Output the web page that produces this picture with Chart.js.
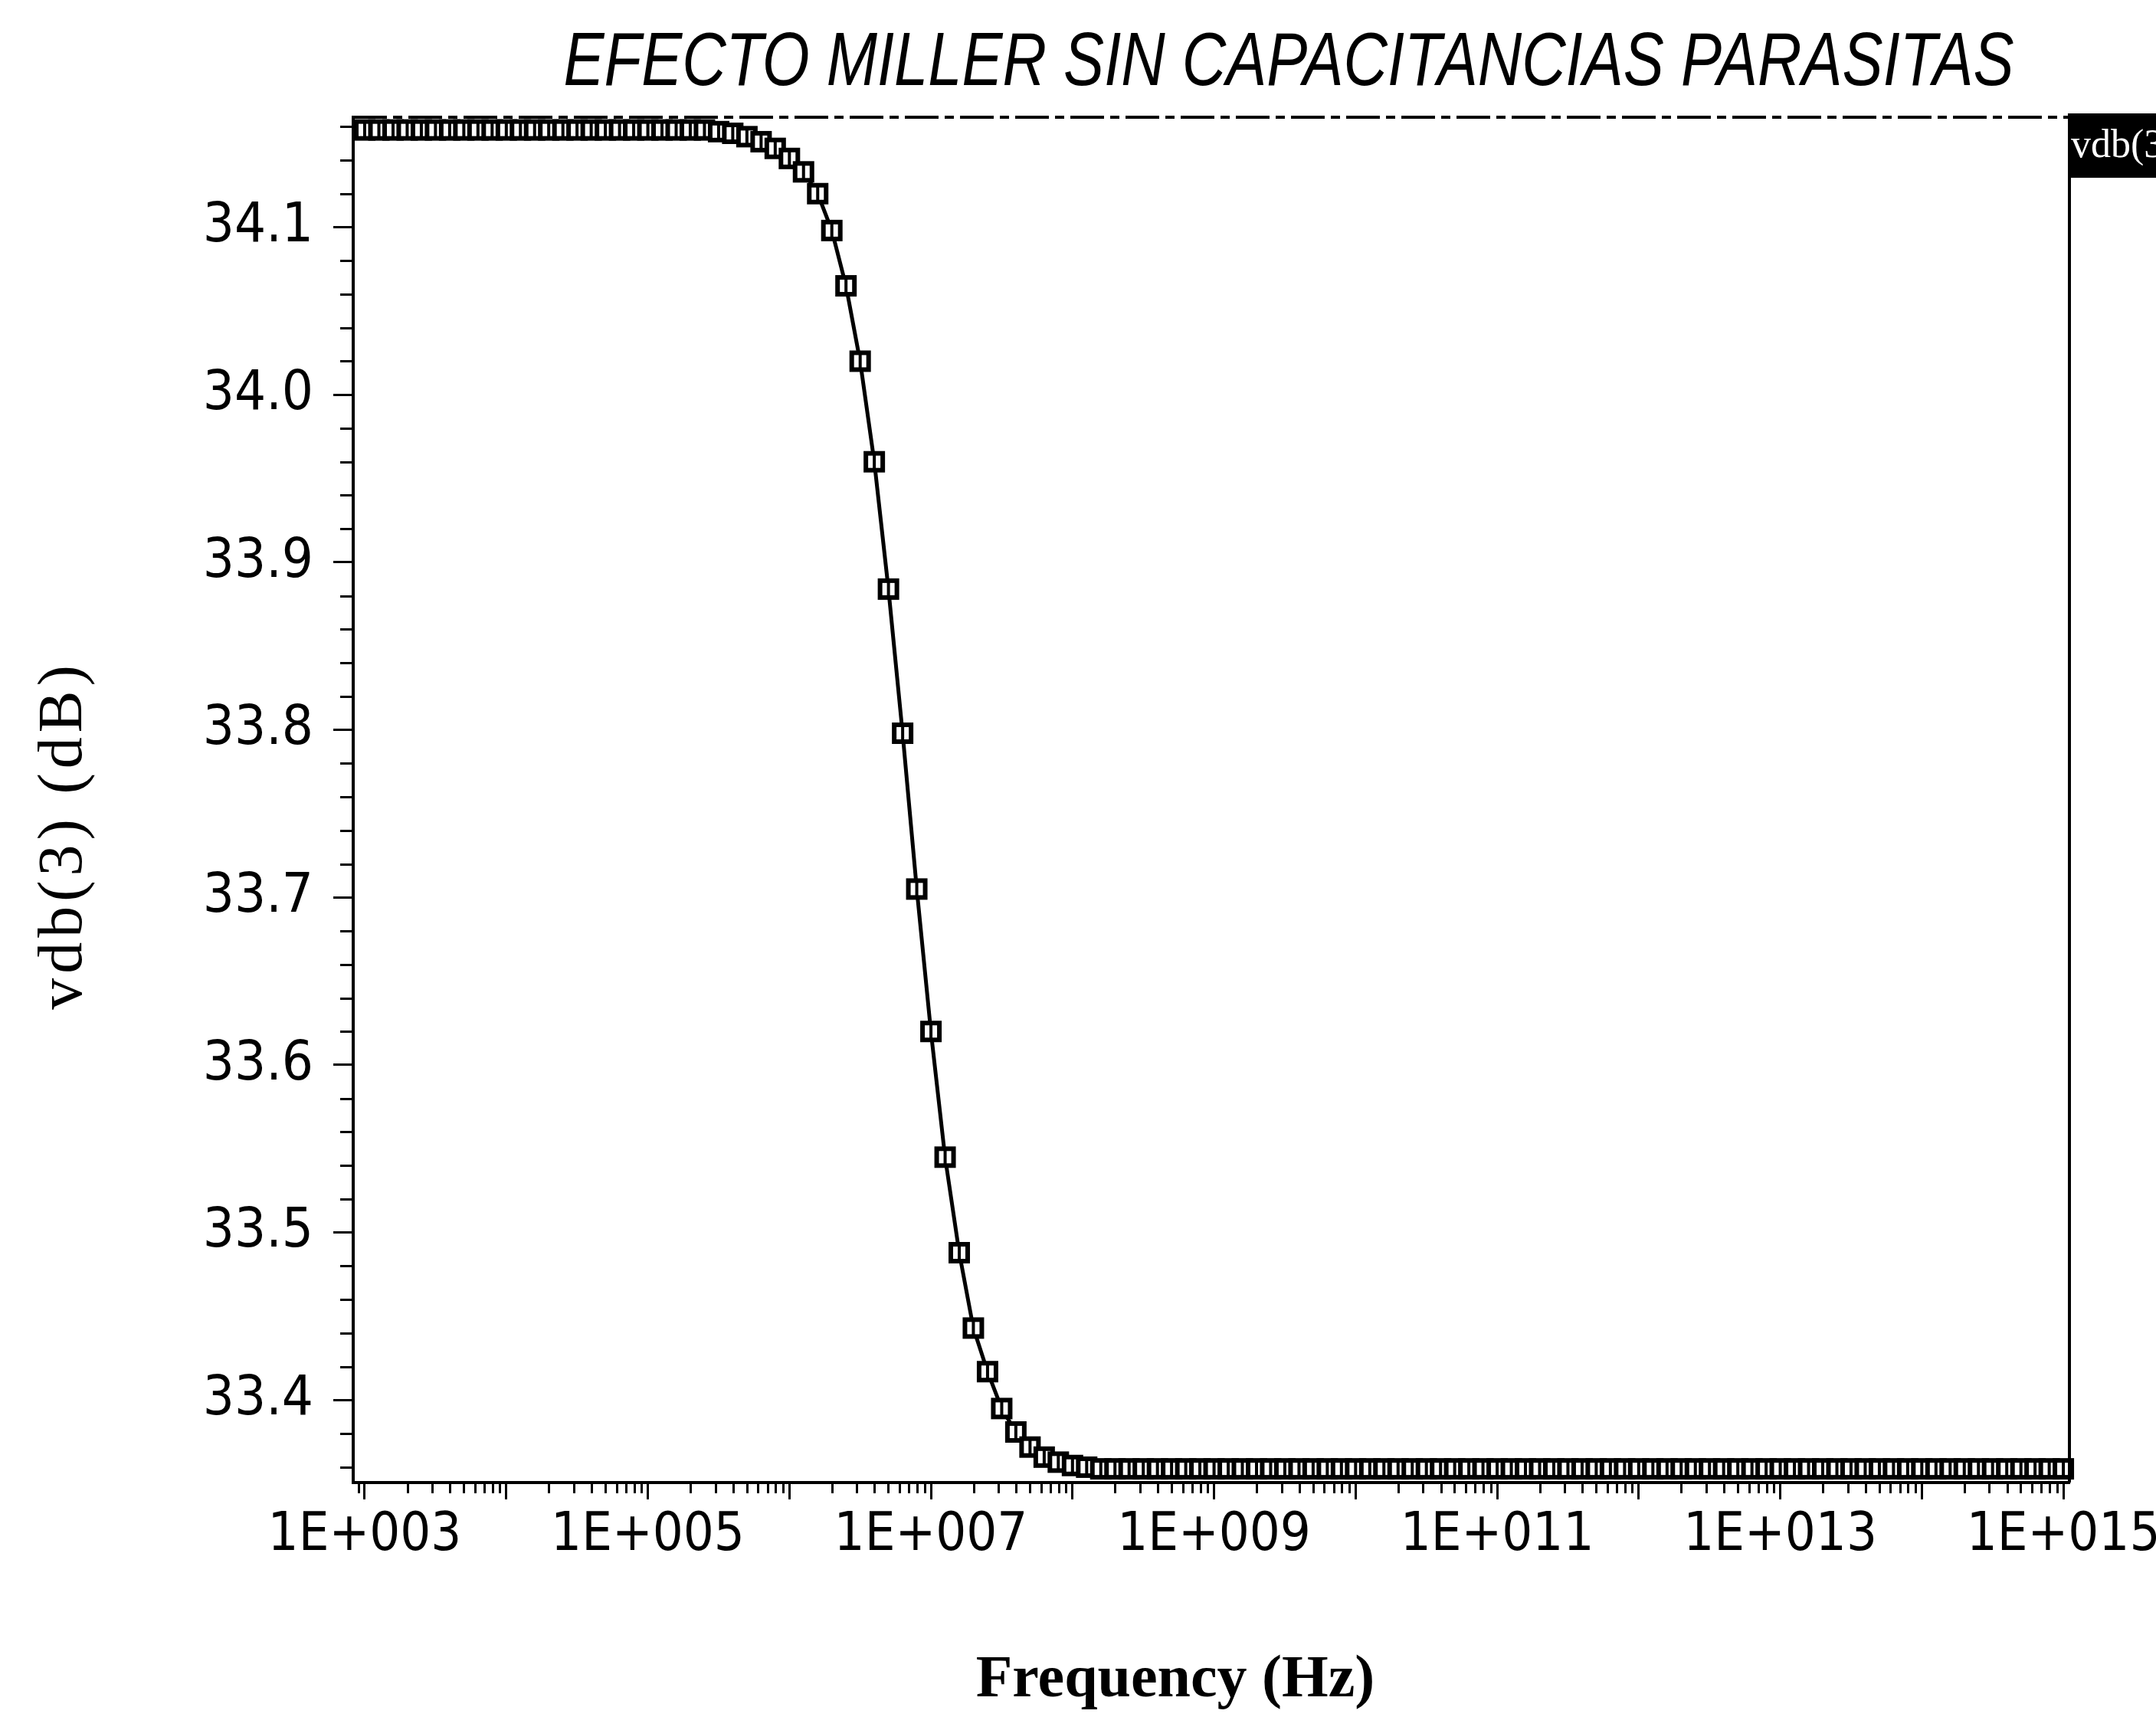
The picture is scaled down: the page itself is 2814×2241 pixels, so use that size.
<!DOCTYPE html>
<html>
<head>
<meta charset="utf-8">
<script src="https://cdn.jsdelivr.net/npm/chart.js@4.4.1/dist/chart.umd.min.js"></script>
<style>
html, body { margin: 0; padding: 0; background: #fff; overflow: hidden; }
#wrap { width: 2814px; height: 2241px; }
canvas { display: block; }
</style>
</head>
<body>
<div id="wrap"><canvas id="miller" width="2814" height="2241"></canvas></div>
<script>
// AC sweep, 10 points per decade
var freqHz = [
    1.000e3, 1.259e3, 1.585e3, 1.995e3, 2.512e3, 3.162e3, 3.981e3, 5.012e3, 6.310e3, 7.943e3,
    1.000e4, 1.259e4, 1.585e4, 1.995e4, 2.512e4, 3.162e4, 3.981e4, 5.012e4, 6.310e4, 7.943e4,
    1.000e5, 1.259e5, 1.585e5, 1.995e5, 2.512e5, 3.162e5, 3.981e5, 5.012e5, 6.310e5, 7.943e5,
    1.000e6, 1.259e6, 1.585e6, 1.995e6, 2.512e6, 3.162e6, 3.981e6, 5.012e6, 6.310e6, 7.943e6,
    1.000e7, 1.259e7, 1.585e7, 1.995e7, 2.512e7, 3.162e7, 3.981e7, 5.012e7, 6.310e7, 7.943e7,
    1.000e8, 1.259e8, 1.585e8, 1.995e8, 2.512e8, 3.162e8, 3.981e8, 5.012e8, 6.310e8, 7.943e8,
    1.000e9, 1.259e9, 1.585e9, 1.995e9, 2.512e9, 3.162e9, 3.981e9, 5.012e9, 6.310e9, 7.943e9,
    1.000e10, 1.259e10, 1.585e10, 1.995e10, 2.512e10, 3.162e10, 3.981e10, 5.012e10, 6.310e10, 7.943e10,
    1.000e11, 1.259e11, 1.585e11, 1.995e11, 2.512e11, 3.162e11, 3.981e11, 5.012e11, 6.310e11, 7.943e11,
    1.000e12, 1.259e12, 1.585e12, 1.995e12, 2.512e12, 3.162e12, 3.981e12, 5.012e12, 6.310e12, 7.943e12,
    1.000e13, 1.259e13, 1.585e13, 1.995e13, 2.512e13, 3.162e13, 3.981e13, 5.012e13, 6.310e13, 7.943e13,
    1.000e14, 1.259e14, 1.585e14, 1.995e14, 2.512e14, 3.162e14, 3.981e14, 5.012e14, 6.310e14, 7.943e14,
    1.000e15
];
var vdb3 = [
    34.158, 34.158, 34.158, 34.158, 34.158, 34.158, 34.158, 34.158, 34.158, 34.158,
    34.158, 34.158, 34.158, 34.158, 34.158, 34.158, 34.158, 34.158, 34.158, 34.158,
    34.158, 34.158, 34.158, 34.158, 34.158, 34.157, 34.156, 34.154, 34.151, 34.147,
    34.141, 34.133, 34.120, 34.098, 34.065, 34.020, 33.960, 33.884, 33.798, 33.705,
    33.620, 33.545, 33.488, 33.443, 33.417, 33.395, 33.381, 33.372, 33.366, 33.363,
    33.361, 33.360, 33.359, 33.359, 33.359, 33.359, 33.359, 33.359, 33.359, 33.359,
    33.359, 33.359, 33.359, 33.359, 33.359, 33.359, 33.359, 33.359, 33.359, 33.359,
    33.359, 33.359, 33.359, 33.359, 33.359, 33.359, 33.359, 33.359, 33.359, 33.359,
    33.359, 33.359, 33.359, 33.359, 33.359, 33.359, 33.359, 33.359, 33.359, 33.359,
    33.359, 33.359, 33.359, 33.359, 33.359, 33.359, 33.359, 33.359, 33.359, 33.359,
    33.359, 33.359, 33.359, 33.359, 33.359, 33.359, 33.359, 33.359, 33.359, 33.359,
    33.359, 33.359, 33.359, 33.359, 33.359, 33.359, 33.359, 33.359, 33.359, 33.359,
    33.359
];
var xTickValues = [1e3, 1e4, 1e5, 1e6, 1e7, 1e8, 1e9, 1e10, 1e11, 1e12, 1e13, 1e14, 1e15];
var yTickValues = [33.4, 33.5, 33.6, 33.7, 33.8, 33.9, 34.0, 34.1];

var seriesLabel = 'vdb(3)';
var chartTitle = 'EFECTO MILLER SIN CAPACITANCIAS PARASITAS';
var xAxisTitle = 'Frequency (Hz)';
var yAxisTitle = 'vdb(3) (dB)';

var tickFont = "'DejaVu Sans Condensed', 'Liberation Sans Narrow', 'DejaVu Sans', sans-serif";

function MakeMarker() {
    var c = document.createElement('canvas');
    c.width = 30;
    c.height = 30;
    var g = c.getContext('2d');
    g.fillStyle = '#fff';
    g.fillRect(4, 4, 22, 22);
    g.strokeStyle = '#000';
    g.lineWidth = 6;
    g.strokeRect(4, 4, 22, 22);
    g.fillStyle = '#000';
    g.fillRect(13, 6, 4, 18);
    return c;
}

function XLabel(v) {
    var e = Math.round(Math.log10(v));
    if (e % 2 == 0) return '';
    return '1E+' + String(e).padStart(3, '0');
}

var frameAndText = {
    id: 'frameAndText',
    afterDraw: function (chart) {
        var ctx = chart.ctx, a = chart.chartArea;
        var xs = chart.scales.x, ys = chart.scales.y;
        ctx.save();
        ctx.strokeStyle = '#000';
        ctx.fillStyle = '#000';

        // minor ticks, x (log 2..9)
        ctx.lineWidth = 3;
        ctx.beginPath();
        for (var k = 2; k <= 15; k++) {
            for (var m = 2; m <= 9; m++) {
                var v = m * Math.pow(10, k);
                if (v <= xs.min || v >= xs.max) continue;
                var px = Math.round(xs.getPixelForValue(v)) + 0.5;
                ctx.moveTo(px, a.bottom);
                ctx.lineTo(px, a.bottom + 14);
            }
        }
        // minor ticks, y every 0.02
        for (var t = 33.36; t < ys.max; t += 0.02) {
            var r = Math.round(t * 100) / 100;
            if (Math.abs(r * 10 - Math.round(r * 10)) < 1e-6) continue;
            var py = Math.round(ys.getPixelForValue(r)) + 0.5;
            ctx.moveTo(a.left, py);
            ctx.lineTo(a.left - 17, py);
        }
        ctx.stroke();

        // right frame
        ctx.lineWidth = 4;
        ctx.beginPath();
        ctx.moveTo(a.right, a.top);
        ctx.lineTo(a.right, a.bottom);
        ctx.stroke();

        // top frame, dashed
        ctx.lineWidth = 4;
        ctx.setLineDash([44, 8, 12, 8]);
        ctx.beginPath();
        ctx.moveTo(a.left, a.top);
        ctx.lineTo(a.right, a.top);
        ctx.stroke();
        ctx.setLineDash([]);

        // legend tag, cut by the canvas edge
        ctx.fillRect(a.right - 2, a.top - 5, chart.width - a.right + 2, 84);
        ctx.fillStyle = '#fff';
        ctx.font = "52px 'Liberation Serif', serif";
        ctx.textAlign = 'left';
        ctx.textBaseline = 'middle';
        ctx.fillText(chart.data.datasets[0].label, a.right + 2, a.top + 38);

        // titles
        ctx.fillStyle = '#000';
        ctx.save();
        ctx.font = "italic 98px 'Liberation Sans', sans-serif";
        var w = ctx.measureText(chartTitle).width;
        ctx.translate(1682, 84);
        ctx.scale(1893 / w, 1);
        ctx.textAlign = 'center';
        ctx.textBaseline = 'middle';
        ctx.fillText(chartTitle, 0, 0);
        ctx.restore();

        ctx.font = "bold 78px 'Liberation Serif', serif";
        ctx.textAlign = 'center';
        ctx.textBaseline = 'middle';
        ctx.fillText(xAxisTitle, 1534, 2194);

        ctx.save();
        ctx.translate(84, 1090);
        ctx.rotate(-Math.PI / 2);
        ctx.font = "82px 'Liberation Serif', serif";
        ctx.letterSpacing = '6px';
        ctx.textAlign = 'center';
        ctx.textBaseline = 'middle';
        ctx.fillText(yAxisTitle, 0, 0);
        ctx.restore();

        ctx.restore();
    }
};

var points = freqHz.map(function (f, i) { return { x: f, y: vdb3[i] }; });

new Chart(document.getElementById('miller'), {
    type: 'line',
    plugins: [frameAndText],
    data: {
        datasets: [{
            label: seriesLabel,
            data: points,
            borderColor: '#000',
            borderWidth: 5,
            tension: 0,
            pointStyle: MakeMarker(),
            pointRadius: 15,
            clip: false
        }]
    },
    options: {
        responsive: false,
        animation: false,
        devicePixelRatio: 1,
        layout: { padding: { top: 153, right: 113, left: 0, bottom: 0 } },
        plugins: {
            legend: { display: false },
            title: { display: false },
            tooltip: { enabled: false }
        },
        scales: {
            x: {
                type: 'logarithmic',
                min: 829.5,
                max: 1.104e15,
                afterFit: function (s) {
                    s.height = 306;
                    s.paddingLeft = 0;
                    s.paddingRight = 0;
                },
                afterBuildTicks: function (s) {
                    s.ticks = xTickValues.map(function (v) { return { value: v }; });
                },
                border: { display: true, color: '#000', width: 4 },
                grid: { drawOnChartArea: false, drawTicks: true, tickLength: 22, tickColor: '#000', tickWidth: 3 },
                ticks: {
                    autoSkip: false,
                    maxRotation: 0,
                    minRotation: 0,
                    padding: 6,
                    color: '#000',
                    font: { family: tickFont, size: 70 },
                    callback: function (v) { return XLabel(v); }
                }
            },
            y: {
                type: 'linear',
                min: 33.3508,
                max: 34.1656,
                afterFit: function (s) {
                    s.width = 461;
                    s.paddingTop = 0;
                    s.paddingBottom = 0;
                },
                afterBuildTicks: function (s) {
                    s.ticks = yTickValues.map(function (v) { return { value: v }; });
                },
                border: { display: true, color: '#000', width: 4 },
                grid: { drawOnChartArea: false, drawTicks: true, tickLength: 26, tickColor: '#000', tickWidth: 3 },
                ticks: {
                    autoSkip: false,
                    padding: 26,
                    color: '#000',
                    font: { family: tickFont, size: 72 },
                    callback: function (v) { return Number(v).toFixed(1); }
                }
            }
        }
    }
});
</script>
</body>
</html>
